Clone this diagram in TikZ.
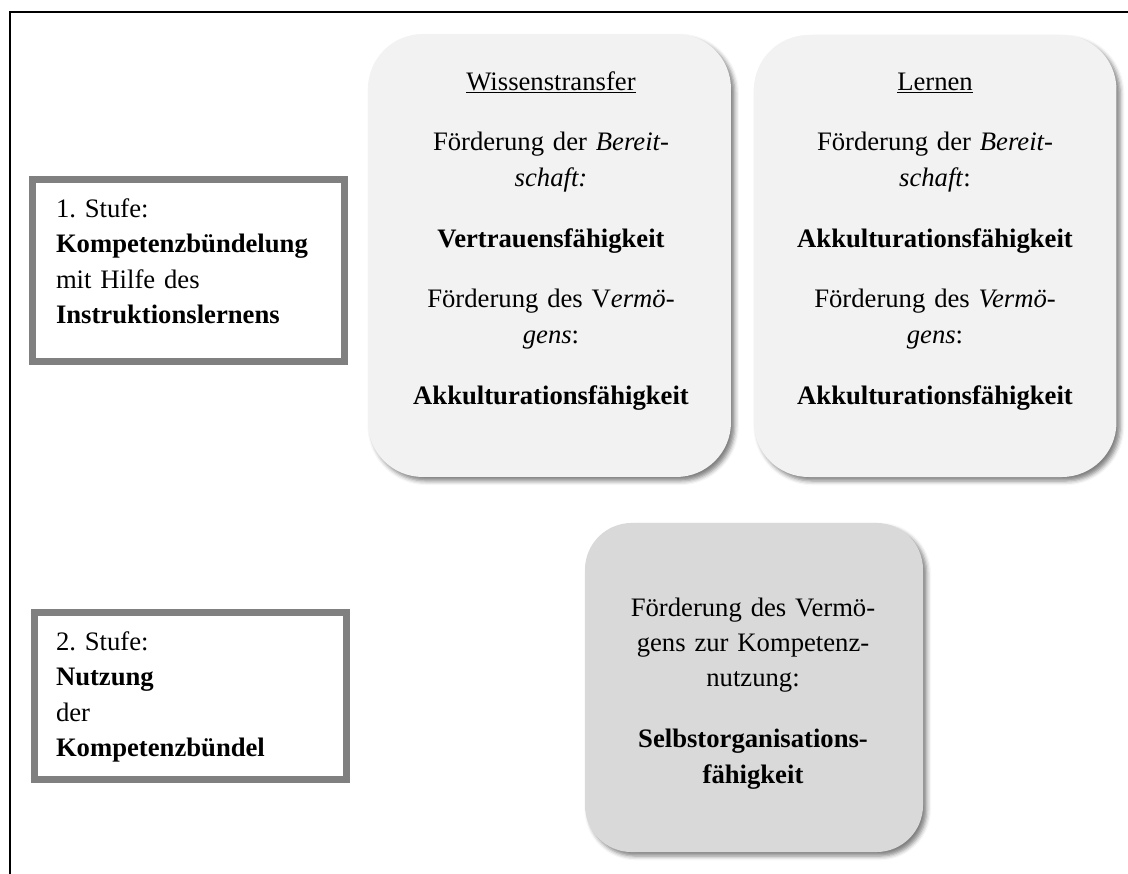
\documentclass[tikz,border=0pt]{standalone}
\usepackage{fontspec}
\setmainfont{Liberation Serif}
\usetikzlibrary{shadows.blur}
\frenchspacing

\definecolor{paleface}{HTML}{F2F2F2}
\definecolor{midface}{HTML}{D9D9D9}
\definecolor{stageedge}{HTML}{808080}

\begin{document}
\begin{tikzpicture}[x=0.75pt,y=-0.75pt,
  stagebox/.style={draw=stageedge, line width=4.9pt, fill=white,
    inner sep=0pt, outer sep=0pt},
  softbox/.style={draw=none, inner sep=0pt, outer sep=0pt,
    rounded corners=#1,
    blur shadow={shadow xshift=2.8pt, shadow yshift=-3pt,
      shadow blur radius=3.2pt, shadow opacity=50}},
  bodytext/.style={inner sep=0pt, outer sep=0pt,
    font=\fontsize{20pt}{26.6pt}\selectfont},
  centertext/.style={bodytext, text width=250pt, align=center, anchor=base},
  lefttext/.style={bodytext, text width=220pt, align=left, anchor=base west}]

  % page size
  \useasboundingbox (0,0) rectangle (1128,874);

  % open frame: top and left edges only
  \coordinate (frameTL) at (10,12);
  \coordinate (frameTR) at (1128,12);
  \coordinate (frameBL) at (10,874);
  \draw[line width=1.3pt] (frameTR) -- (frameTL) -- (frameBL);

  % stage boxes on the left
  \node[stagebox, minimum width=233.9pt, minimum height=136.8pt] (stufeA) at (188.5,270.5) {};
  \node[stagebox, minimum width=234.3pt, minimum height=125.6pt] (stufeB) at (190.5,696) {};

  \node[lefttext] (stufeAtext) at (56,217.3)
    {1. Stufe:\\\textbf{Kompetenzbündelung}\\mit Hilfe des\\\textbf{Instruktionslernens}};
  \node[lefttext] (stufeBtext) at (56,650.3)
    {2. Stufe:\\\textbf{Nutzung}\\der\\\textbf{Kompetenzbündel}};

  % rounded content boxes
  \node[softbox=41pt, fill=paleface, minimum width=272.2pt, minimum height=332.2pt] (wissen) at (549.5,255.5) {};
  \node[softbox=41pt, fill=paleface, minimum width=271.9pt, minimum height=331.5pt] (lernen) at (935.2,256) {};
  \node[softbox=35pt, fill=midface, minimum width=253.5pt, minimum height=246.8pt] (nutzung) at (754,687.5) {};

  \node[centertext] (wissentext) at (551,90)
    {\underline{Wissenstransfer}\\[19pt]
     Förderung der \textit{Bereit-}\\\textit{schaft:}\\[19pt]
     \textbf{Vertrauensfähigkeit}\\[19pt]
     Förderung des V\textit{ermö-}\\\textit{gens}:\\[19pt]
     \textbf{Akkulturationsfähigkeit}};

  \node[centertext] (lernentext) at (935,90)
    {\underline{Lernen}\\[19pt]
     Förderung der \textit{Bereit-}\\\textit{schaft}:\\[19pt]
     \textbf{Akkulturationsfähigkeit}\\[19pt]
     Förderung des \textit{Vermö-}\\\textit{gens}:\\[19pt]
     \textbf{Akkulturationsfähigkeit}};

  \node[centertext] (nutzungtext) at (753,616)
    {Förderung des Vermö-\\gens zur Kompetenz-\\nutzung:\\[19pt]
     \textbf{Selbstorganisations-}\\\textbf{fähigkeit}};
\end{tikzpicture}
\end{document}
